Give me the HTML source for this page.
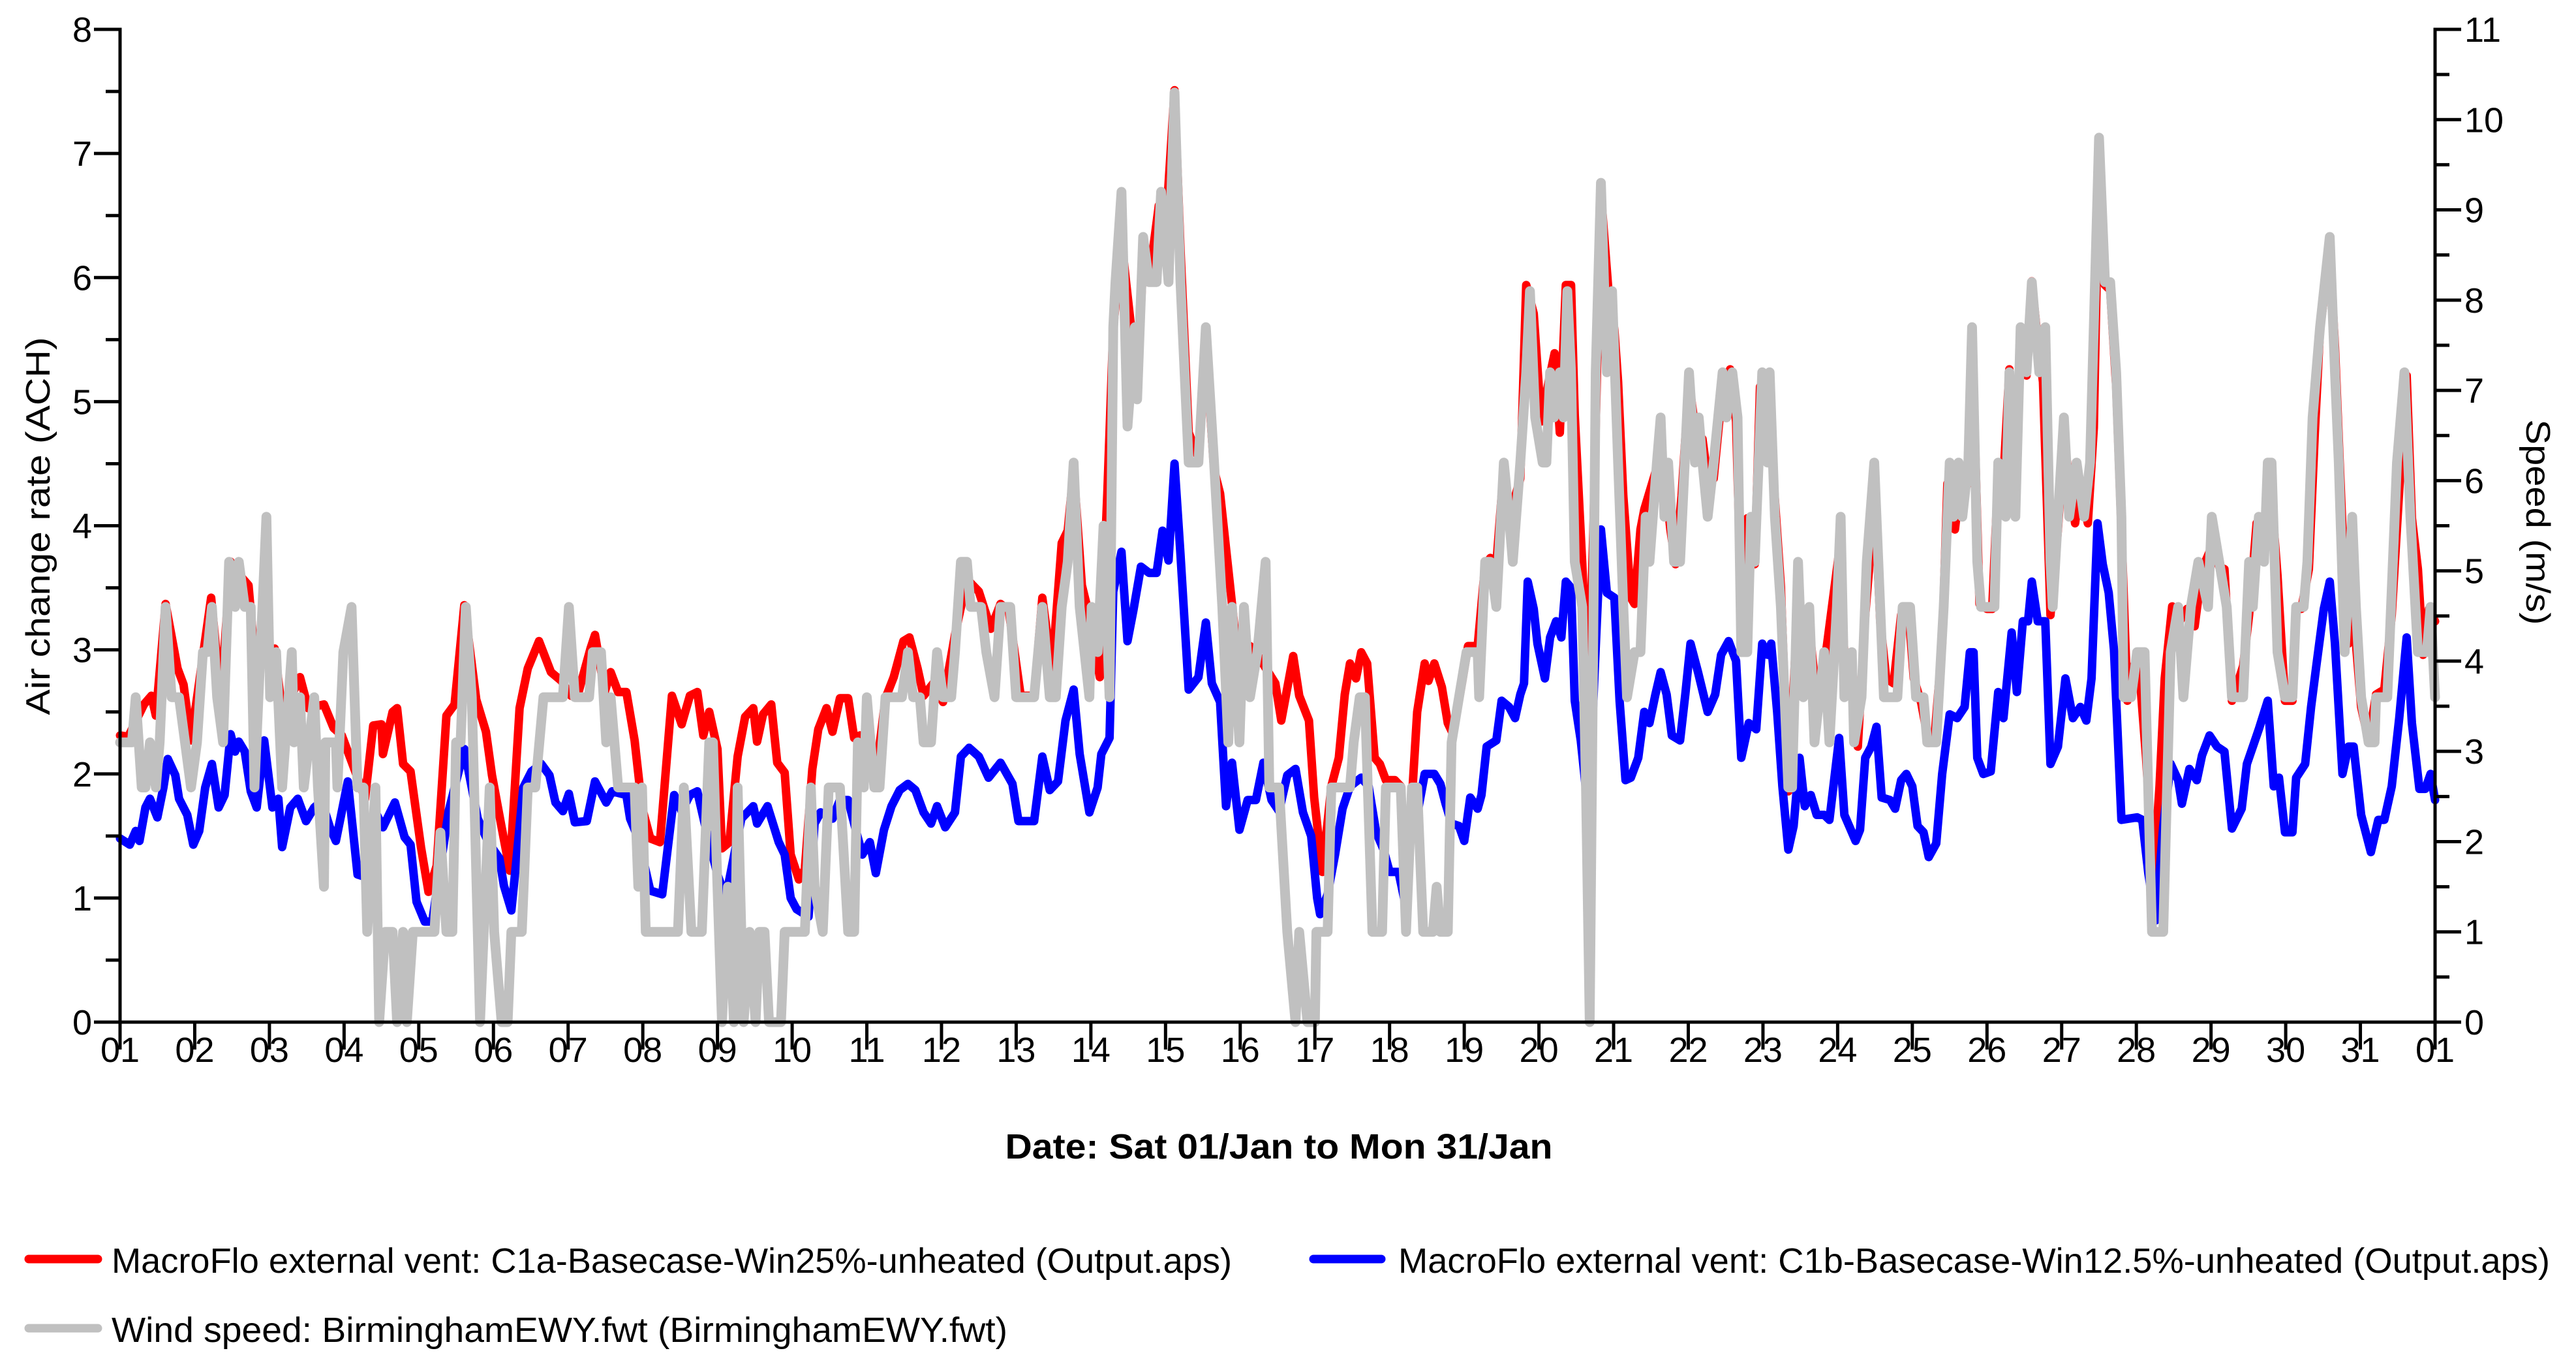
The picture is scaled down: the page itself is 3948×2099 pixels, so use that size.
<!DOCTYPE html>
<html><head><meta charset="utf-8"><style>
html,body{margin:0;padding:0;background:#fff;}
svg{display:block;}
text{font-family:"Liberation Sans",Arial,sans-serif;fill:#000;}
</style></head><body>
<svg id="chart" width="3948" height="2099" viewBox="0 0 3948 2099" xmlns="http://www.w3.org/2000/svg">
<g id="series"></g>
<g id="axes"></g>
<text transform="translate(76,806) rotate(-90)" text-anchor="middle" font-size="52" textLength="579" lengthAdjust="spacingAndGlyphs">Air change rate (ACH)</text>
<text transform="translate(3872,800) rotate(90)" text-anchor="middle" font-size="52" textLength="315" lengthAdjust="spacingAndGlyphs">Speed (m/s)</text>
<text x="1960" y="1775" text-anchor="middle" font-size="54" font-weight="bold" textLength="839" lengthAdjust="spacingAndGlyphs">Date: Sat 01/Jan to Mon 31/Jan</text>
<g>
<line x1="44" y1="1929" x2="150" y2="1929" stroke="#ff0000" stroke-width="13" stroke-linecap="round"/>
<text x="171" y="1950" font-size="54" textLength="1717" lengthAdjust="spacingAndGlyphs">MacroFlo external vent: C1a-Basecase-Win25%-unheated (Output.aps)</text>
<line x1="2013" y1="1929" x2="2117" y2="1929" stroke="#0000ff" stroke-width="13" stroke-linecap="round"/>
<text x="2143" y="1950" font-size="54" textLength="1765" lengthAdjust="spacingAndGlyphs">MacroFlo external vent: C1b-Basecase-Win12.5%-unheated (Output.aps)</text>
<line x1="44" y1="2035" x2="150" y2="2035" stroke="#c0c0c0" stroke-width="13" stroke-linecap="round"/>
<text x="171" y="2056" font-size="54" textLength="1373" lengthAdjust="spacingAndGlyphs">Wind speed: BirminghamEWY.fwt (BirminghamEWY.fwt)</text>
</g>
</svg>
<script>
const xTickLabels = ["01","02","03","04","05","06","07","08","09","10","11","12","13","14","15","16","17","18","19","20","21","22","23","24","25","26","27","28","29","30","31","01"];
const yLeftTicks = [0,1,2,3,4,5,6,7,8];
const yRightTicks = [0,1,2,3,4,5,6,7,8,9,10,11];

const redDays = [0,0.11,0.32,0.42,0.48,0.61,0.77,0.85,0.95,1.22,1.35,1.48,1.59,1.72,1.77,1.83,2.07,2.15,2.22,2.41,2.52,2.73,2.86,2.97,3.23,3.28,3.39,3.5,3.52,3.65,3.71,3.79,3.89,4.03,4.13,4.24,4.37,4.48,4.61,4.77,4.9,4.98,5.11,5.22,5.35,5.46,5.61,5.77,5.91,6.04,6.14,6.3,6.36,6.49,6.57,6.67,6.78,6.89,6.99,7.1,7.23,7.39,7.52,7.63,7.73,7.81,7.89,8.0,
8.06,8.16,8.27,8.37,8.48,8.53,8.61,8.72,8.8,8.9,8.98,9.09,9.17,9.27,9.35,9.46,9.54,9.64,9.75,9.83,9.91,10.12,10.25,10.36,10.49,10.57,10.68,10.76,10.89,11.02,11.18,11.34,11.5,11.66,11.79,11.9,12.06,12.24,12.35,12.48,12.61,12.69,12.77,12.88,12.98,13.12,13.22,13.3,13.41,13.54,13.62,13.7,13.78,13.91,13.99,14.12,14.2,14.31,14.44,14.54,14.65,14.73,14.89,14.99,15.13,15.21,15.47,15.55,15.71,15.79,15.92,
15.99,16.1,16.22,16.32,16.4,16.47,16.55,16.62,16.7,16.8,16.87,16.95,17.07,17.15,17.22,17.3,17.37,17.47,17.52,17.6,17.7,17.78,17.85,17.98,18.05,18.18,18.28,18.35,18.43,18.5,18.6,18.75,18.83,18.93,19.03,19.13,19.21,19.28,19.36,19.43,19.48,19.58,19.66,19.73,19.83,19.93,20.01,20.06,20.13,20.23,20.28,20.36,20.41,20.56,20.68,20.76,20.83,20.91,21.01,21.11,21.19,21.26,21.34,21.46,21.56,21.64,21.71,21.79,21.89,21.96,22.06,22.14,22.24,22.34,22.44,22.54,22.62,22.72,22.84,23.02,23.09,23.19,23.27,
23.37,23.42,23.49,23.57,23.65,23.75,23.85,23.95,24.02,24.12,24.22,24.3,24.4,24.47,24.57,24.65,24.75,24.8,24.9,25.0,25.07,25.15,25.22,25.3,25.38,25.45,25.53,25.6,25.68,25.75,25.85,25.95,26.03,26.18,26.25,26.35,26.43,26.5,26.58,26.65,26.73,26.8,26.88,26.96,27.03,27.13,27.23,27.31,27.38,27.48,27.58,27.68,27.78,27.88,28.01,28.11,28.18,28.28,28.43,28.51,28.61,28.71,28.79,28.89,28.99,29.09,29.14,29.21,29.31,29.39,29.46,29.59,29.66,29.76,29.84,29.91,30.01,30.11,30.21,30.32,30.42,30.52,30.62,30.69,30.77,30.84,30.92,31.0];
const redAch = [2.31,2.3,2.56,2.63,2.47,3.37,2.85,2.72,2.27,3.42,2.6,3.71,3.61,3.52,3.17,2.91,3.01,2.6,2.53,2.78,2.53,2.56,2.37,2.31,1.89,1.8,2.39,2.4,2.16,2.5,2.53,2.08,2.02,1.41,1.05,1.26,2.47,2.56,3.36,2.6,2.34,1.99,1.57,1.22,2.53,2.85,3.07,2.82,2.75,2.63,2.66,3.01,3.12,2.66,2.82,2.66,2.66,2.27,1.73,1.48,1.45,2.63,2.4,2.63,2.66,2.31,2.5,2.2,
1.4,1.45,2.14,2.46,2.53,2.26,2.48,2.56,2.09,2.01,1.35,1.15,1.23,2.04,2.36,2.53,2.34,2.61,2.61,2.29,2.31,1.99,2.61,2.78,3.07,3.1,2.85,2.63,2.73,2.58,3.12,3.57,3.47,3.17,3.37,3.32,2.63,2.63,3.42,2.83,3.86,3.96,4.45,3.52,3.27,2.78,4.26,5.59,6.3,5.59,5.15,6.13,5.98,6.58,6.28,7.51,6.23,4.75,4.55,5.44,4.45,4.26,3.37,2.78,3.03,2.98,2.73,2.43,2.95,2.63,2.43,
1.81,1.21,1.9,2.13,2.64,2.89,2.77,2.98,2.89,2.13,2.08,1.95,1.95,1.9,1.03,1.81,2.5,2.89,2.75,2.89,2.7,2.41,2.32,2.77,3.03,3.03,3.69,3.74,3.69,4.24,4.06,4.38,5.94,5.71,4.84,5.16,5.39,4.75,5.94,5.94,4.89,3.69,2.59,3.97,6.68,5.9,5.58,5.16,4.24,3.42,3.37,3.97,4.13,4.43,4.43,3.97,3.69,4.24,5.16,4.7,4.7,4.38,4.38,5.12,5.26,4.84,3.33,4.06,3.69,5.12,5.16,4.38,3.51,1.86,3.05,2.96,3.19,2.59,2.96,3.79,2.96,2.91,2.22,
3.28,3.65,4.34,3.23,2.77,2.73,3.28,3.3,2.77,2.57,2.25,2.31,3.05,4.34,3.97,4.38,4.34,5.53,3.37,3.33,3.33,4.43,4.38,5.26,4.61,5.51,5.21,5.97,5.49,5.16,3.28,3.97,4.7,4.02,4.34,4.02,4.79,6.96,5.94,5.9,5.12,3.97,2.59,2.87,2.91,2.13,1.17,1.9,2.77,3.35,3.23,3.33,3.19,3.65,3.83,3.67,3.65,2.59,2.87,3.28,4.02,4.02,4.38,3.6,2.59,2.59,3.33,3.33,3.65,4.75,5.58,6.22,5.44,3.97,3.05,3.28,2.54,2.27,2.64,2.68,3.28,4.29,5.21,4.06,3.65,2.96,3.33,3.23];

const blueDays = [0,0.13,0.21,0.26,0.34,0.4,0.5,0.58,0.64,0.74,0.79,0.9,0.98,1.06,1.14,1.23,1.32,1.4,1.48,1.54,1.59,1.67,1.75,1.83,1.93,2.04,2.12,2.17,2.28,2.38,2.49,2.6,2.7,2.81,2.89,3.05,3.18,3.34,3.44,3.52,3.68,3.81,3.89,3.97,4.08,4.18,4.4,4.61,4.79,4.93,5.08,5.14,5.24,5.3,5.4,5.51,5.64,5.75,5.83,5.93,6.01,6.09,6.25,6.36,6.51,6.59,6.78,6.83,6.94,7.1,7.26,7.42,7.52,7.63,7.73,7.84,8.0,
8.11,8.32,8.48,8.53,8.67,8.82,8.9,8.98,9.06,9.22,9.3,9.38,9.54,9.64,9.75,9.83,9.94,10.04,10.12,10.23,10.33,10.44,10.55,10.65,10.76,10.86,10.94,11.05,11.18,11.26,11.37,11.5,11.63,11.79,11.95,12.03,12.24,12.35,12.45,12.56,12.66,12.77,12.85,12.98,13.09,13.14,13.25,13.3,13.41,13.49,13.57,13.67,13.78,13.88,13.96,14.04,14.12,14.2,14.31,14.44,14.54,14.62,14.73,14.81,14.89,14.99,15.1,15.21,15.31,15.42,15.52,15.63,15.74,15.84,15.95,16.03,
16.07,16.17,16.27,16.37,16.47,16.62,16.72,16.82,16.92,17.0,17.12,17.2,17.27,17.37,17.47,17.6,17.68,17.75,17.83,17.93,18.0,18.08,18.18,18.23,18.3,18.43,18.5,18.6,18.68,18.75,18.8,18.85,18.93,18.98,19.08,19.15,19.23,19.3,19.36,19.43,19.48,19.56,19.66,19.73,19.83,19.91,20.01,20.08,20.16,20.23,20.33,20.41,20.48,20.56,20.63,20.71,20.78,20.89,20.96,21.03,21.13,21.26,21.36,21.44,21.54,21.64,21.71,21.81,21.91,21.99,22.06,22.11,22.19,22.26,22.34,22.41,22.49,22.56,22.64,22.72,22.82,22.89,23.02,23.09,23.24,23.3,
23.37,23.45,23.52,23.59,23.7,23.77,23.85,23.92,24.0,24.07,24.15,24.22,24.32,24.4,24.5,24.6,24.7,24.77,24.82,24.87,24.95,25.05,25.15,25.22,25.33,25.4,25.48,25.55,25.6,25.68,25.78,25.85,25.95,26.05,26.15,26.25,26.33,26.4,26.48,26.55,26.63,26.7,26.8,27.01,27.08,27.16,27.26,27.36,27.46,27.56,27.61,27.71,27.81,27.88,27.98,28.08,28.18,28.28,28.41,28.48,28.64,28.76,28.84,28.91,28.99,29.09,29.14,29.26,29.34,29.41,29.51,29.59,29.66,29.76,29.84,29.91,30.01,30.14,30.24,30.32,30.42,30.52,30.62,30.69,30.79,30.87,30.94,31.0];
const blueAch = [1.48,1.43,1.54,1.46,1.73,1.8,1.65,1.89,2.12,1.99,1.8,1.67,1.43,1.54,1.89,2.08,1.73,1.83,2.32,2.18,2.26,2.18,1.86,1.73,2.27,1.73,1.8,1.41,1.73,1.8,1.62,1.73,1.78,1.57,1.46,1.94,1.19,1.16,1.67,1.57,1.77,1.49,1.43,0.97,0.81,0.81,1.7,2.2,1.64,1.45,1.32,1.1,0.9,1.26,1.89,2.02,2.08,1.99,1.77,1.7,1.84,1.61,1.62,1.94,1.77,1.86,1.83,1.64,1.48,1.06,1.03,1.83,1.7,1.83,1.86,1.57,1.19,
1.0,1.64,1.74,1.6,1.74,1.45,1.35,1.0,0.91,0.85,1.6,1.69,1.64,1.79,1.79,1.6,1.35,1.45,1.2,1.55,1.74,1.87,1.92,1.87,1.69,1.6,1.74,1.57,1.69,2.14,2.21,2.14,1.97,2.09,1.92,1.62,1.62,2.14,1.87,1.94,2.43,2.68,2.16,1.69,1.89,2.16,2.29,3.47,3.79,3.07,3.32,3.67,3.62,3.62,3.96,3.72,4.5,3.77,2.68,2.78,3.22,2.73,2.58,1.74,2.09,1.55,1.79,1.79,2.09,1.79,1.7,1.99,2.04,1.69,1.5,1.0,
0.87,1.03,1.35,1.72,1.9,1.97,1.9,1.53,1.39,1.21,1.21,0.98,1.44,1.67,2.0,2.0,1.92,1.76,1.6,1.58,1.46,1.81,1.72,1.83,2.22,2.27,2.59,2.54,2.45,2.64,2.73,3.55,3.33,3.05,2.77,3.1,3.23,3.1,3.55,3.5,2.59,2.27,1.7,2.6,3.97,3.46,3.42,2.59,1.95,1.97,2.13,2.5,2.41,2.64,2.82,2.64,2.31,2.27,2.64,3.05,2.82,2.5,2.64,2.96,3.07,2.91,2.13,2.41,2.36,3.05,2.96,3.05,2.5,1.9,1.39,1.58,2.13,1.74,1.83,1.67,1.67,1.63,2.29,1.67,1.46,1.55,
2.13,2.22,2.38,1.81,1.79,1.72,1.95,2.0,1.9,1.58,1.53,1.33,1.44,2.0,2.48,2.45,2.54,2.98,2.98,2.13,2.0,2.02,2.66,2.45,3.14,2.66,3.23,3.23,3.55,3.23,3.23,2.08,2.22,2.77,2.45,2.54,2.43,2.77,4.02,3.69,3.46,3.0,1.63,1.65,1.63,1.2,0.82,1.58,2.08,1.95,1.76,2.04,1.95,2.15,2.31,2.22,2.18,1.56,1.72,2.08,2.36,2.59,1.9,1.97,1.53,1.53,1.97,2.08,2.54,2.87,3.33,3.55,3.05,2.0,2.22,2.22,1.67,1.37,1.63,1.63,1.9,2.45,3.1,2.41,1.88,1.88,2.0,1.79];

const grayDays = [0,0.16,0.21,0.29,0.34,0.4,0.48,0.53,0.61,0.69,0.79,0.87,0.95,1.03,1.11,1.17,1.23,1.3,1.38,1.46,1.54,1.59,1.67,1.75,1.8,1.88,1.96,2.01,2.09,2.17,2.3,2.33,2.41,2.46,2.6,2.65,2.73,2.75,2.89,2.91,2.99,3.1,3.18,3.26,3.31,3.42,3.47,3.55,3.65,3.71,3.79,3.84,3.92,4.21,4.29,4.37,4.45,4.5,4.56,4.63,4.71,4.82,4.95,5.01,5.11,5.19,5.24,5.38,5.46,5.56,5.67,5.93,6.01,6.09,6.28,6.33,6.44,6.51,6.57,6.67,6.89,6.94,6.99,7.04,7.47,7.55,7.65,7.79,7.89,7.94,
8.0,8.06,8.14,8.22,8.27,8.35,8.43,8.51,8.56,8.63,8.69,8.85,8.9,9.17,9.25,9.3,9.41,9.49,9.64,9.75,9.83,9.88,9.96,10.0,10.1,10.17,10.25,10.47,10.55,10.62,10.71,10.76,10.86,10.94,11.02,11.13,11.18,11.26,11.34,11.39,11.53,11.6,11.71,11.79,11.92,12.0,12.24,12.35,12.45,12.53,12.61,12.69,12.77,12.85,12.98,13.01,13.09,13.17,13.25,13.3,13.33,13.41,13.49,13.59,13.62,13.7,13.78,13.88,13.94,14.04,14.12,14.2,14.31,14.44,14.54,14.65,14.76,14.84,14.89,14.99,15.05,15.13,15.23,15.34,15.39,15.52,15.63,15.74,15.79,15.9,16.0,
16.02,16.17,16.22,16.47,16.52,16.6,16.67,16.77,16.9,16.95,17.15,17.22,17.3,17.37,17.45,17.58,17.63,17.68,17.78,17.83,17.93,18.03,18.18,18.2,18.28,18.35,18.43,18.53,18.6,18.65,18.75,18.83,18.88,18.95,19.05,19.1,19.15,19.2,19.28,19.33,19.38,19.43,19.48,19.58,19.63,19.68,19.76,19.83,19.91,19.98,20.06,20.13,20.18,20.28,20.36,20.43,20.48,20.58,20.63,20.68,20.73,20.81,20.89,21.01,21.09,21.14,21.19,21.26,21.34,21.46,21.51,21.59,21.66,21.71,21.79,21.84,21.89,21.99,22.06,22.09,22.16,22.24,22.34,22.39,22.47,22.54,22.62,22.69,22.82,22.89,22.99,23.04,23.09,23.19,23.22,23.32,23.39,23.49,23.57,
23.62,23.8,23.87,23.97,24.05,24.15,24.2,24.32,24.42,24.5,24.55,24.62,24.67,24.75,24.8,24.87,24.92,25.1,25.15,25.25,25.3,25.38,25.45,25.53,25.6,25.7,25.78,25.85,25.88,25.95,26.03,26.1,26.2,26.3,26.38,26.5,26.58,26.65,26.73,26.8,26.83,26.93,27.01,27.11,27.21,27.36,27.46,27.56,27.63,27.73,27.83,27.96,28.01,28.11,28.21,28.28,28.43,28.51,28.56,28.64,28.71,28.76,28.81,28.89,28.99,29.09,29.14,29.24,29.29,29.36,29.46,29.59,29.66,29.71,29.79,29.89,29.94,30.01,30.11,30.19,30.21,30.36,30.49,30.59,30.67,30.77,30.89,30.94,31.0];
const graySpeed = [3.1,3.1,3.6,2.6,2.6,3.1,2.6,3.1,4.6,3.6,3.6,3.1,2.6,3.1,4.1,4.1,4.6,3.6,3.1,5.1,4.6,5.1,4.6,4.6,2.6,4.1,5.6,3.6,4.1,2.6,4.1,3.1,3.6,2.6,3.6,2.6,1.5,3.1,3.1,2.6,4.1,4.6,2.6,2.6,1.0,2.6,0,1.0,1.0,0,1.0,0,1.0,1.0,2.1,1.0,1.0,3.1,3.1,4.6,3.6,0,2.6,1.0,0,0,1.0,1.0,2.6,2.6,3.6,3.6,4.6,3.6,3.6,4.1,4.1,3.1,3.6,2.6,2.6,1.5,2.6,1.0,1.0,2.6,1.0,1.0,3.1,3.1,
1.5,0,1.5,0,2.6,0,1.0,0,1.0,1.0,0,0,1.0,1.0,2.6,1.5,1.0,2.6,2.6,1.0,1.0,3.1,2.6,3.6,2.6,2.6,3.6,3.6,4.1,3.6,3.6,3.1,3.1,4.1,3.6,3.6,4.1,5.1,5.1,4.6,4.6,4.1,3.6,4.6,4.6,3.6,3.6,4.6,3.6,3.6,4.6,5.1,6.2,4.6,3.6,4.6,4.1,5.5,3.6,7.7,8.2,9.2,6.6,7.7,6.9,8.7,8.2,8.2,9.2,8.2,10.3,8.2,6.2,6.2,7.7,6.2,4.6,3.1,4.6,3.1,4.6,3.6,4.1,5.1,2.6,2.6,1.0,0,1.0,0,0,
1.0,1.0,2.6,2.6,3.1,3.6,3.6,1.0,1.0,2.6,2.6,1.0,2.6,2.6,1.0,1.0,1.5,1.0,1.0,3.1,3.6,4.1,4.1,3.6,5.1,5.1,4.6,6.2,5.6,5.1,6.2,7.2,8.1,6.7,6.2,6.2,7.2,6.7,7.2,6.7,8.1,7.2,5.1,4.6,2.6,0,7.2,9.3,7.2,8.1,6.2,4.6,3.6,4.1,4.1,5.6,5.1,6.2,6.7,5.6,6.2,5.1,5.1,7.2,6.2,6.7,6.2,5.6,6.2,7.2,6.7,7.2,6.7,4.1,4.1,5.6,5.1,7.2,6.2,7.2,5.6,4.6,2.6,2.6,5.1,3.6,4.6,3.1,4.1,3.1,4.6,5.6,3.6,4.1,3.1,3.6,5.1,6.2,4.6,
3.6,3.6,4.6,4.6,3.6,3.6,3.1,3.1,4.6,6.2,5.6,6.2,5.6,6.2,7.7,5.1,4.6,4.6,6.2,5.6,7.2,5.6,7.7,7.2,8.2,7.2,7.7,5.1,4.6,5.6,6.7,5.6,6.2,5.6,6.2,9.8,8.2,8.2,7.2,5.6,3.6,3.6,4.1,4.1,1.0,1.0,4.1,4.6,3.6,4.6,5.1,4.6,5.6,5.1,4.6,3.6,3.6,5.1,4.6,5.6,5.1,6.2,6.2,4.1,3.6,3.6,4.6,4.6,5.1,6.7,7.7,8.7,7.2,6.2,4.1,5.6,4.6,3.6,3.1,3.1,3.6,3.6,6.2,7.2,5.6,4.1,4.1,4.6,3.6];

const NS = "http://www.w3.org/2000/svg";
const L = 184, R = 3732, T = 45, B = 1566, NDAYS = 31;
function xScale(d){ return L + (R - L) * d / NDAYS; }
function yLeft(v){ return B - (B - T) * v / 8; }
function yRight(v){ return B - (B - T) * v / 11; }

function mk(tag, attrs, parent){
  const e = document.createElementNS(NS, tag);
  for (const k in attrs) e.setAttribute(k, attrs[k]);
  parent.appendChild(e);
  return e;
}

const seriesG = document.getElementById('series');
const axesG = document.getElementById('axes');

function drawSeries(days, vals, yFn, color, width, name){
  let d = "";
  for (let i = 0; i < days.length; i++){
    d += (i ? "L" : "M") + xScale(days[i]).toFixed(1) + "," + yFn(vals[i]).toFixed(1);
  }
  const p = mk('path', {d: d, fill: 'none', stroke: color, 'stroke-width': width, 'stroke-linejoin': 'round', 'stroke-linecap': 'round'}, seriesG);
  
  
}
drawSeries(redDays, redAch, yLeft, '#ff0000', 13, 'series-c1a-win25');
drawSeries(blueDays, blueAch, yLeft, '#0000ff', 13, 'series-c1b-win12-5');
drawSeries(grayDays, graySpeed, yRight, '#c0c0c0', 15, 'series-wind-speed');

// axes lines
const axisAttrs = {stroke: '#000', 'stroke-width': 5, 'stroke-linecap': 'square'};
const al = mk('line', Object.assign({x1: L, y1: T, x2: L, y2: B}, axisAttrs), axesG);


const ar = mk('line', Object.assign({x1: R, y1: T, x2: R, y2: B}, axisAttrs), axesG);


const ab = mk('line', Object.assign({x1: L, y1: B, x2: R, y2: B}, axisAttrs), axesG);



// left ticks
yLeftTicks.forEach(function(v){
  const y = yLeft(v);
  const t = mk('line', {x1: L - 40, y1: y, x2: L, y2: y, stroke: '#000', 'stroke-width': 5}, axesG);
  
  
  const lb = mk('text', {x: L - 43, y: y + 19, 'text-anchor': 'end', 'font-size': 54}, axesG);
  lb.textContent = String(v);
  
  
  if (v < 8){
    const ym = yLeft(v + 0.5);
    const m = mk('line', {x1: L - 22, y1: ym, x2: L, y2: ym, stroke: '#000', 'stroke-width': 5}, axesG);
    
    
  }
});
// right ticks
yRightTicks.forEach(function(v){
  const y = yRight(v);
  const t = mk('line', {x1: R, y1: y, x2: R + 40, y2: y, stroke: '#000', 'stroke-width': 5}, axesG);
  
  
  const lb = mk('text', {x: R + 45, y: y + 19, 'text-anchor': 'start', 'font-size': 54}, axesG);
  lb.textContent = String(v);
  
  
  if (v < 11){
    const ym = yRight(v + 0.5);
    const m = mk('line', {x1: R, y1: ym, x2: R + 22, y2: ym, stroke: '#000', 'stroke-width': 5}, axesG);
    
    
  }
});
// x ticks
xTickLabels.forEach(function(lbl, i){
  const x = xScale(i);
  const t = mk('line', {x1: x, y1: B, x2: x, y2: B + 42, stroke: '#000', 'stroke-width': 5}, axesG);
  
  
  const tx = mk('text', {x: x, y: 1627, 'text-anchor': 'middle', 'font-size': 54}, axesG);
  tx.textContent = lbl;
  
  
});
</script>
</body></html>
